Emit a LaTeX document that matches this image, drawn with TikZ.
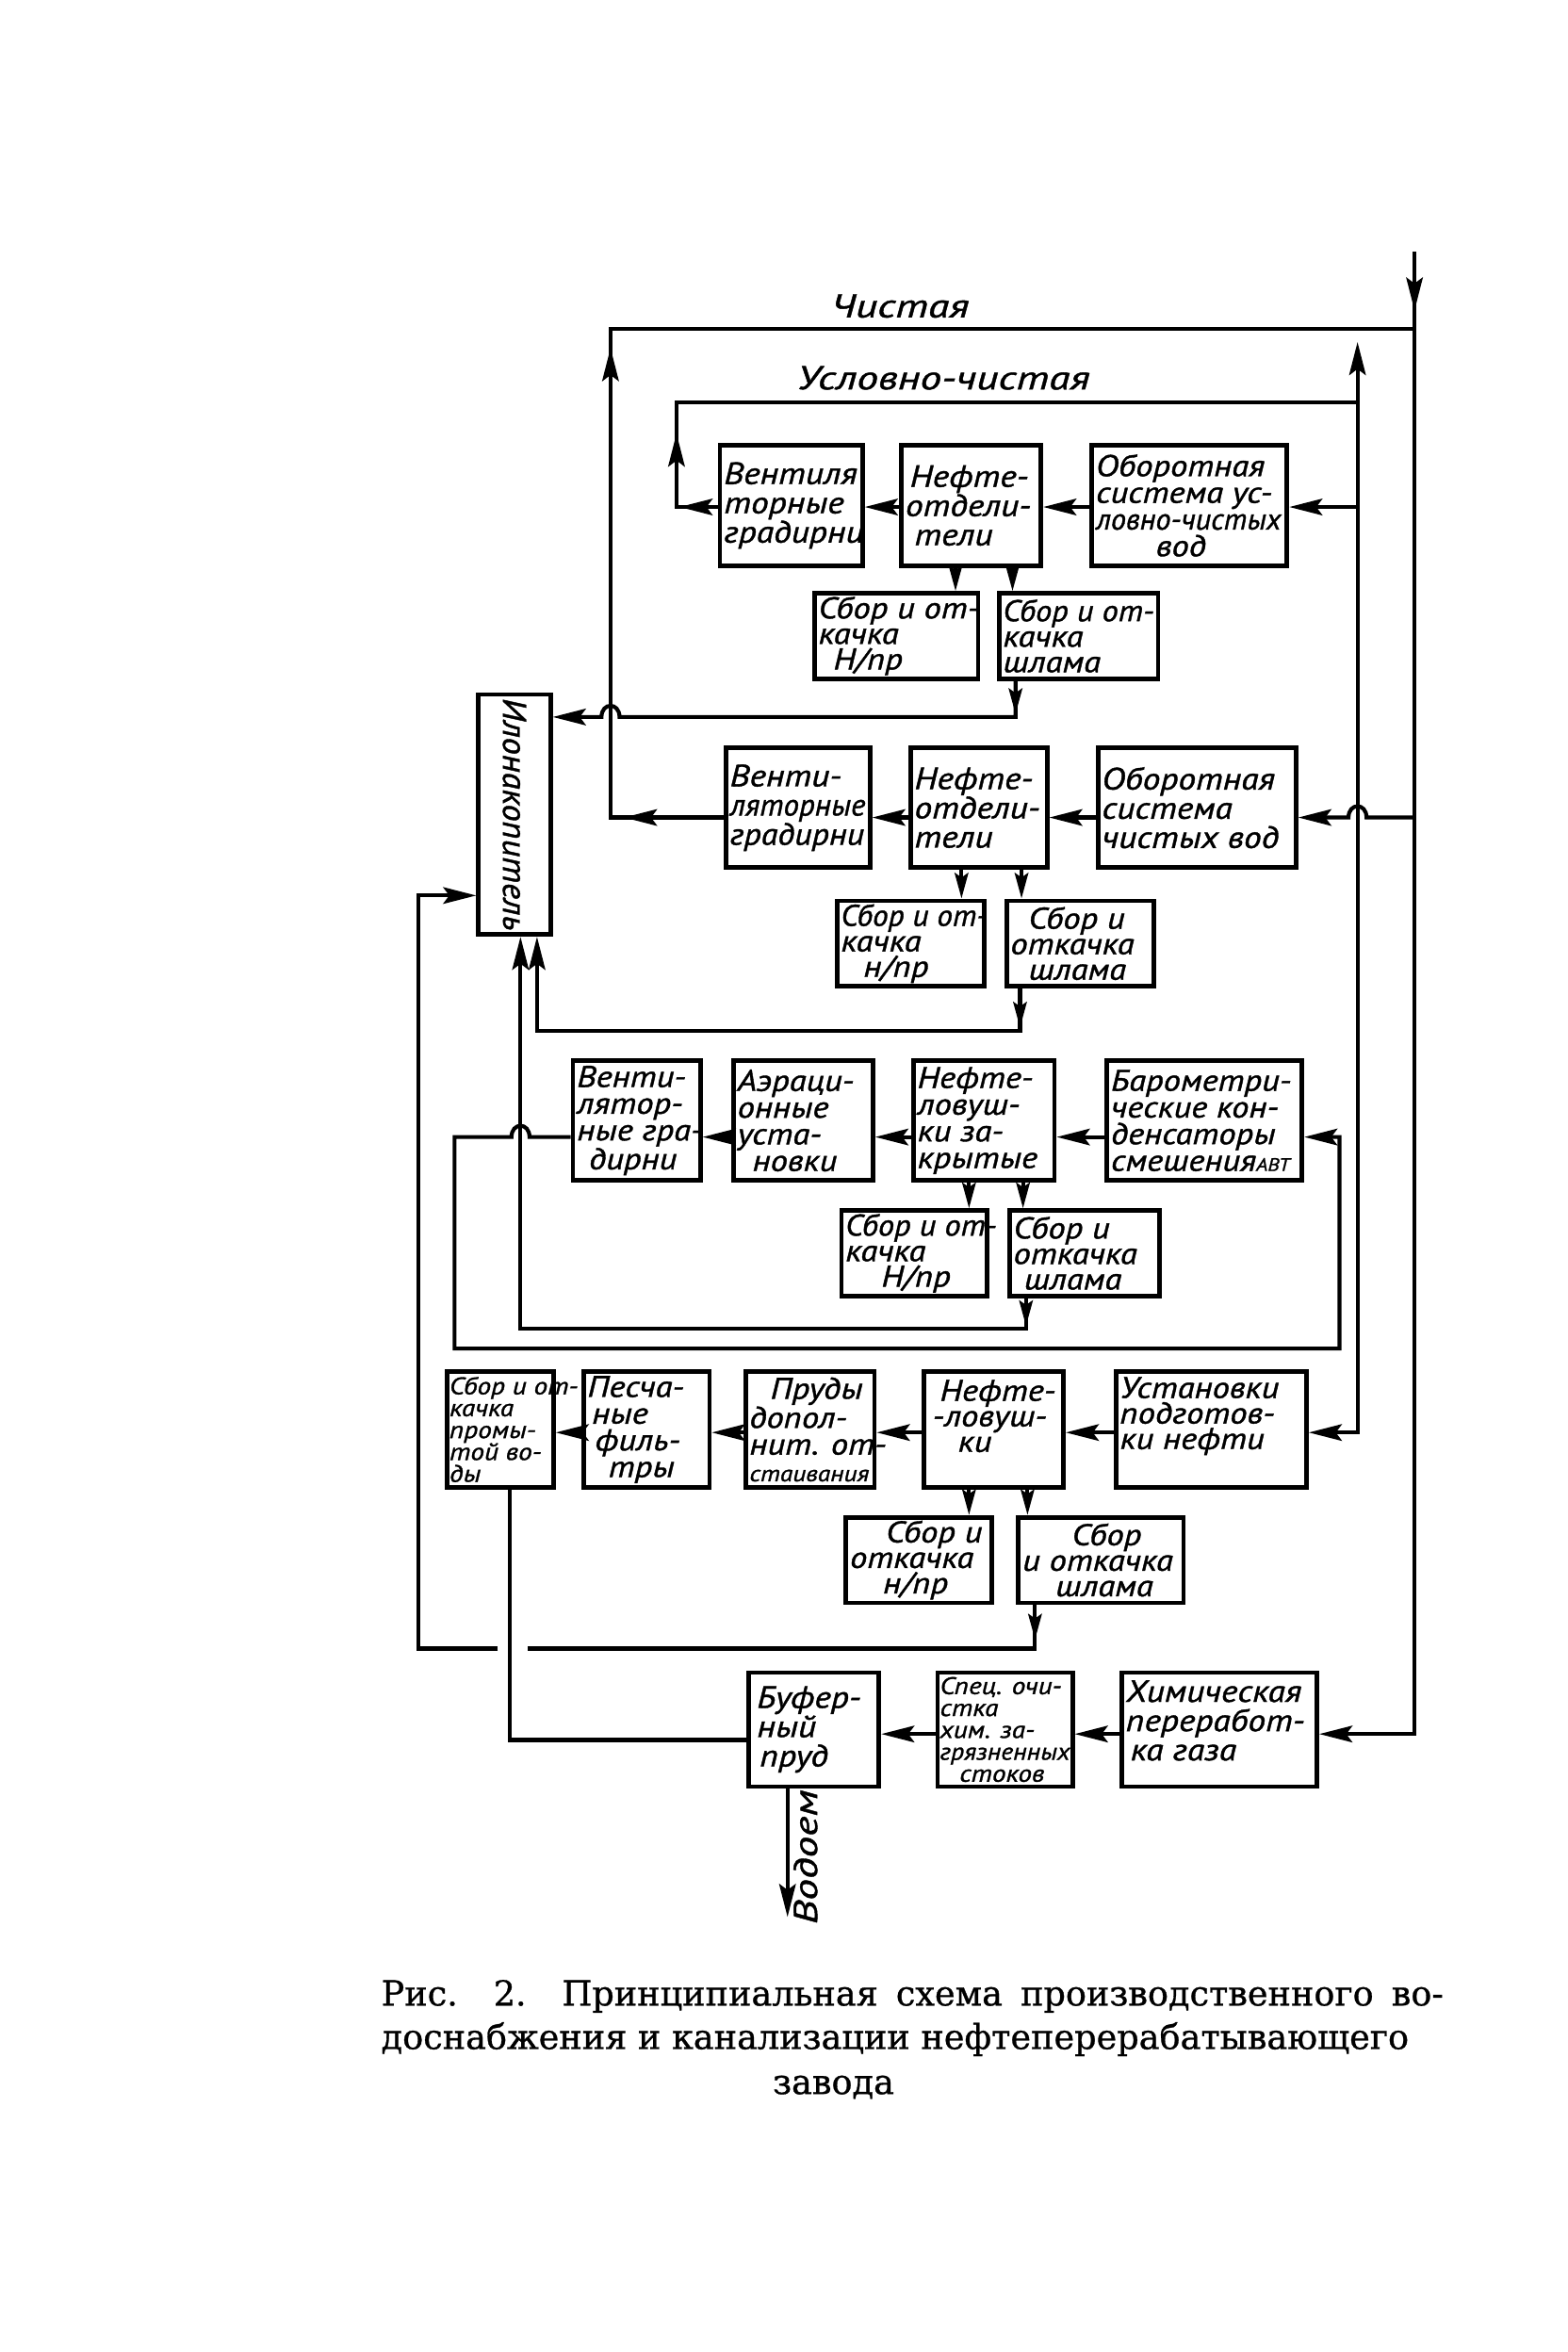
\documentclass[tikz,border=0pt]{standalone}
\usepackage{fontspec}
\usepackage{graphicx}
\newfontfamily\hand[FakeStretch=1.15, FakeBold=1.2]{PT Sans}
\newfontfamily\handw[FakeStretch=1.3, FakeBold=1.2]{PT Sans}
\newfontfamily\handn[FakeStretch=1.04, FakeBold=1.2]{PT Sans}
\newfontfamily\capf[FakeBold=0.8]{DejaVu Serif}
\newcommand{\sq}[2]{\scalebox{#1}[1]{#2}}
\usetikzlibrary{arrows.meta}
\begin{document}
\begin{tikzpicture}[x=1pt,y=-1pt,
  ln/.style={line width=2.6pt},
  arr/.style={ln, -{Stealth[length=22pt,width=11pt,inset=4pt]}},
  sarr/.style={ln, -{Stealth[length=17pt,width=9pt,inset=3pt]}},
  blk/.style 2 args={draw, line width=3pt, inner sep=0pt, minimum width=#1pt, minimum height=#2pt},
  tx/.style={align=left, inner sep=0pt, anchor=west, xshift=4pt, font=\hand\itshape\fontsize{20.5}{19.5}\selectfont},
  tx4/.style={tx, font=\hand\itshape\fontsize{20}{17.8}\selectfont},
  tx3/.style={tx, font=\hand\itshape\fontsize{20}{17}\selectfont},
  txs/.style={tx, xshift=-1pt, font=\hand\itshape\fontsize{16}{14.6}\selectfont},
  lbl/.style={inner sep=0pt, font=\handw\itshape\fontsize{22}{22}\selectfont},
  ilo/.style={inner sep=0pt, rotate=-90, font=\handn\itshape\fontsize{22}{22}\selectfont},
  capt/.style={inner sep=0pt, font=\capf\fontsize{23}{23}\selectfont}
]
\fill[white] (0,0) rectangle (1045,1568);
\useasboundingbox (0,0) rectangle (1045,1568);

% ---------- group 1 (conditionally clean water)
\node[blk={95}{80}, label={[tx]west:{Вентиля\\торные\\градирни}}] (B1a) at (527.5,337) {};
\node[blk={93}{80}, label={[tx]west:{\hspace*{3pt}Нефте-\\отдели-\\\hspace*{6pt}тели}}] (B1b) at (647.5,337) {};
\node[blk={130}{80}, label={[tx4]west:{Оборотная\\система ус-\\\sq{0.88}{ловно-чистых}\\\hspace*{40pt}вод}}] (B1c) at (793,337) {};
\node[blk={109}{57}, label={[tx3]west:{Сбор и от-\\качка\\\hspace*{10pt}Н/пр}}] (B1d) at (597.5,424) {};
\node[blk={106}{57}, label={[tx3]west:{\sq{0.94}{Сбор и от-}\\качка\\шлама}}] (B1e) at (719,424) {};

% ---------- group 2 (clean water)
\node[blk={96}{80}, label={[tx]west:{Венти-\\\sq{0.88}{ляторные}\\\sq{0.96}{градирни}}}] (B2a) at (532,538.5) {};
\node[blk={91}{80}, label={[tx]west:{Нефте-\\отдели-\\тели}}] (B2b) at (652.5,538.5) {};
\node[blk={132}{80}, label={[tx]west:{Оборотная\\система\\чистых вод}}] (B2c) at (798,538.5) {};
\node[blk={98}{57}, label={[tx3]west:{\sq{0.91}{Сбор и от-}\\качка\\\hspace*{15pt}н/пр}}] (B2d) at (607,629) {};
\node[blk={98}{57}, label={[tx3]west:{\hspace*{12pt}Сбор и\\откачка\\\hspace*{12pt}шлама}}] (B2e) at (720,629) {};

% ---------- group 3
\node[blk={85}{80}, label={[tx4]west:{Венти-\\лятор-\\ные гра-\\\hspace*{8pt}дирни}}] (B3a) at (424.5,747) {};
\node[blk={93}{80}, label={[tx4]west:{Аэраци-\\онные\\уста-\\\hspace*{10pt}новки}}] (B3b) at (535.5,747) {};
\node[blk={94}{80}, label={[tx4]west:{Нефте-\\ловуш-\\ки за-\\крытые}}] (B3c) at (656,747) {};
\node[blk={130}{80}, label={[tx4]west:{Барометри-\\ческие кон-\\денсаторы\\смешения{\fontsize{12}{12}\selectfont АВТ}}}] (B3d) at (803,747) {};
\node[blk={97}{57}, label={[tx3]west:{\sq{0.94}{Сбор и от-}\\качка\\\hspace*{24pt}Н/пр}}] (B3e) at (609.5,835.5) {};
\node[blk={100}{57}, label={[tx3]west:{Сбор и\\откачка\\\hspace*{7pt}шлама}}] (B3f) at (723,835.5) {};

% ---------- group 4
\node[blk={71}{77}, label={[txs]west:{Сбор и от-\\качка\\промы-\\той во-\\ды}}] (B4a) at (333.5,953) {};
\node[blk={84}{77}, label={[tx4]west:{Песча-\\\hspace*{3pt}ные\\\hspace*{5pt}филь-\\\hspace*{14pt}тры}}] (B4b) at (431,953) {};
\node[blk={86}{77}, label={[tx4]west:{\hspace*{14pt}Пруды\\допол-\\нит. от-\\{\fontsize{15}{15}\selectfont стаивания}}}] (B4c) at (540,953) {};
\node[blk={93}{77}, label={[tx3,yshift=9pt]west:{\hspace*{8pt}Нефте-\\\hspace*{3pt}-ловуш-\\\hspace*{20pt}ки}}] (B4d) at (662.5,953) {};
\node[blk={127}{77}, label={[tx3,yshift=9pt]west:{Установки\\подготов-\\ки нефти}}] (B4e) at (807.5,953) {};
\node[blk={97}{57}, label={[tx3]west:{\hspace*{24pt}Сбор и\\откачка\\\hspace*{22pt}н/пр}}] (B4f) at (612.5,1040) {};
\node[blk={110}{57}, label={[tx3]west:{\hspace*{33pt}Сбор\\и откачка\\\hspace*{22pt}шлама}}] (B4g) at (734,1040) {};

% ---------- group 5
\node[blk={87}{76}, label={[tx]west:{\hspace*{3pt}Буфер-\\\hspace*{3pt}ный\\\hspace*{5pt}пруд}}] (B5a) at (542.5,1153) {};
\node[blk={90}{76}, label={[txs]west:{Спец. очи-\\стка\\хим. за-\\\sq{0.95}{грязненных}\\\hspace*{13pt}стоков}}] (B5b) at (670,1153) {};
\node[blk={130}{76}, label={[tx,yshift=6pt]west:{Химическая\\переработ-\\\hspace*{3pt}ка газа}}] (B5c) at (813,1153) {};

% ---------- sludge collector
\node[blk={48}{160}, label={[ilo]center:Илонакопитель}] (Ilo) at (343,543) {};

% ---------- labels
\node[lbl] (lc) at (600,204) {Чистая};
\node[lbl] (luc) at (629,252) {Условно-чистая};
\node[lbl, rotate=90] (lv) at (537,1238) {Водоем};

% ---------- clean water supply line
\coordinate (tin) at (943,168);
\draw[arr] (tin) -- (943,1156) -- (B5c.east |- 0,1156);
\draw[arr] (tin) -- (943,207);
\draw[ln] (B2a.west |- 0,545) -- (407,545) -- (407,219) -- (943,219);
\draw[arr] (B2a.west |- 0,545) -- (416,545);
\draw[arr] (407,290) -- (407,232);
\draw[arr] (943,545) -- (911,545) .. controls (911,535) and (899,535) .. (899,545) -- (B2c.east |- 0,545);

% ---------- conditionally clean line
\coordinate (uout) at (905,228);
\draw[arr] (905,268) -- (uout);
\draw[arr] (905,268) -- (905,955) -- (B4e.east |- 0,955);
\draw[arr] (905,338) -- (B1c.east |- 0,338);
\draw[ln] (B1a.west |- 0,338) -- (451,338) -- (451,268) -- (905,268);
\draw[arr] (B1a.west |- 0,338) -- (453,338);
\draw[arr] (451,325) -- (451,289);

% ---------- row arrows
\draw[arr] (B1c.west |- 0,338) -- (B1b.east |- 0,338);
\draw[arr] (B1b.west |- 0,338) -- (B1a.east |- 0,338);
\draw[arr] (B2c.west |- 0,545) -- (B2b.east |- 0,545);
\draw[arr] (B2b.west |- 0,545) -- (B2a.east |- 0,545);
\draw[arr] (B3d.west |- 0,758) -- (B3c.east |- 0,758);
\draw[arr] (B3c.west |- 0,758) -- (B3b.east |- 0,758);
\draw[arr] (B3b.west |- 0,758) -- (B3a.east |- 0,758);
\draw[arr] (B4e.west |- 0,955) -- (B4d.east |- 0,955);
\draw[arr] (B4d.west |- 0,955) -- (B4c.east |- 0,955);
\draw[arr] (B4c.west |- 0,955) -- (B4b.east |- 0,955);
\draw[arr] (B4b.west |- 0,955) -- (B4a.east |- 0,955);
\draw[arr] (B5c.west |- 0,1156) -- (B5b.east |- 0,1156);
\draw[arr] (B5b.west |- 0,1156) -- (B5a.east |- 0,1156);

% ---------- down arrows to collection boxes
\draw[sarr] (637,0 |- B1b.south) -- (637,0 |- B1d.north);
\draw[sarr] (675,0 |- B1b.south) -- (675,0 |- B1e.north);
\draw[sarr] (641,0 |- B2b.south) -- (641,0 |- B2d.north);
\draw[sarr] (681,0 |- B2b.south) -- (681,0 |- B2e.north);
\draw[sarr] (646,0 |- B3c.south) -- (646,0 |- B3e.north);
\draw[sarr] (682,0 |- B3c.south) -- (682,0 |- B3f.north);
\draw[sarr] (646,0 |- B4d.south) -- (646,0 |- B4f.north);
\draw[sarr] (685,0 |- B4d.south) -- (685,0 |- B4g.north);

% ---------- sludge lines to collector
\draw[arr] (677,0 |- B1e.south) -- (677,478) -- (413,478) .. controls (413,468) and (401,468) .. (401,478) -- (Ilo.east |- 0,478);
\draw[sarr] (677,0 |- B1e.south) -- (677,476);
\draw[arr] (680,0 |- B2e.south) -- (680,687) -- (358,687) -- (358,0 |- Ilo.south);
\draw[sarr] (680,0 |- B2e.south) -- (680,685);
\draw[arr] (684,0 |- B3f.south) -- (684,886) -- (347,886) -- (347,0 |- Ilo.south);
\draw[sarr] (684,0 |- B3f.south) -- (684,884);
\draw[arr] (690,0 |- B4g.south) -- (690,1099) -- (352,1099) (332,1099) -- (279,1099) -- (279,597) -- (Ilo.west |- 0,597);
\draw[sarr] (690,0 |- B4g.south) -- (690,1093);

% ---------- barometric loop
\draw[arr] (B3a.west |- 0,758) -- (353,758) .. controls (353,748) and (341,748) .. (341,758) -- (303,758) -- (303,899) -- (893,899) -- (893,758) -- (B3d.east |- 0,758);

% ---------- wash water to buffer pond, outlet
\draw[ln] (340,0 |- B4a.south) -- (340,1160) -- (B5a.west |- 0,1160);
\coordinate (vod) at (525,1278);
\draw[arr] (525,0 |- B5a.south) -- (vod);

% ---------- caption
\node[capt, anchor=base west] (cap1) at (254,1337) {\makebox[708pt][s]{Рис. 2. Принципиальная схема производственного во-}};
\node[capt, anchor=base west] (cap2) at (254,1366) {доснабжения и канализации нефтеперерабатывающего};
\node[capt, anchor=base west] (cap3) at (515,1396) {завода};
\end{tikzpicture}
\end{document}
